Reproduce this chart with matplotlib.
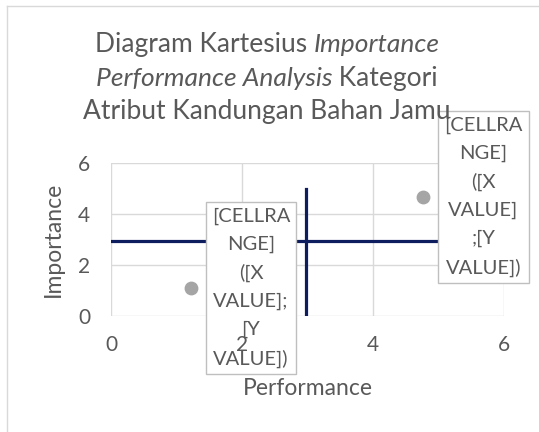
import matplotlib
matplotlib.use("Agg")
import matplotlib.pyplot as plt
from matplotlib.lines import Line2D

plt.rcParams['font.family'] = ['Lato', 'DejaVu Sans']

# data
performance = [1.22, 4.77]
importance = [1.11, 4.68]
mean_perf = 2.98
mean_imp = 2.95
line_end = 5
point_labels = ["[CELLRA\nNGE]\n([X\nVALUE];\n[Y\nVALUE])",
                "[CELLRA\nNGE]\n([X\nVALUE]\n;[Y\nVALUE])"]
ticks = [0, 2, 4, 6]

grey_txt = '#595959'
grid_c = '#d9d9d9'
navy = '#0d1d5e'

fig = plt.figure(figsize=(5.39, 4.32), dpi=100)
fig.patch.set_facecolor('white')
ax = fig.add_axes([0.206, 0.2685, 0.729, 0.354])

# grid drawn by hand so the label boxes can sit above it
for t in ticks:
    ax.axhline(t, color=grid_c, lw=1, zorder=1)
    ax.axvline(t, color=grid_c, lw=1, zorder=1)
ax.grid(False)
ax.set_axisbelow(False)

ax.plot([0, line_end], [mean_imp, mean_imp], color=navy, lw=2.3, zorder=2)
ax.plot([mean_perf, mean_perf], [0, line_end], color=navy, lw=2.3, zorder=2)
ax.scatter(performance, importance, s=80, color='#a5a5a5', zorder=2.1)

for x, y, lab in zip(performance, importance, point_labels):
    ax.annotate(lab, (x, y), xytext=(15, 0), textcoords='offset points',
                ha='left', va='center', multialignment='center',
                fontsize=14.5, color=grey_txt, linespacing=1.75,
                bbox=dict(boxstyle='square,pad=0.3', fc='white', ec='#bfbfbf', lw=1),
                zorder=2.4, annotation_clip=False)

ax.set_xlim(0, 6)
ax.set_ylim(0, 6)
ax.set_xticks(ticks)
ax.set_yticks(ticks)
ax.tick_params(length=0, labelsize=15, labelcolor=grey_txt)
ax.tick_params(axis='x', pad=14)
ax.tick_params(axis='y', pad=15)
for s in ax.spines.values():
    s.set_visible(False)
ax.set_xlabel('Performance', fontsize=16.5, color=grey_txt, labelpad=16)
ax.set_ylabel('Importance', fontsize=16.5, color=grey_txt, labelpad=10)

# outer chart border (left and top only visible)
fig.add_artist(Line2D([7/539, 7/539], [0, 1 - 6/432], color='#d9d9d9', lw=1))
fig.add_artist(Line2D([7/539, 1], [1 - 6/432, 1 - 6/432], color='#d9d9d9', lw=1))

# title with mixed italic pieces, centred line by line
title_lines = [
    [("Diagram Kartesius ", 'normal'), ("Importance", 'italic')],
    [("Performance Analysis", 'italic'), (" Kategori", 'normal')],
    [("Atribut Kandungan Bahan Jamu", 'normal')],
]
baselines = [52, 86, 119]
cx = 267
fig.canvas.draw()
r = fig.canvas.get_renderer()
for parts, base in zip(title_lines, baselines):
    objs = []
    for txt, st in parts:
        t = fig.text(0, 1 - base / 432, txt, fontsize=19, style=st, color=grey_txt,
                     va='baseline', ha='left', zorder=1)
        objs.append(t)
    widths = [o.get_window_extent(r).width for o in objs]
    x0 = cx - sum(widths) / 2
    for o, w in zip(objs, widths):
        o.set_x(x0 / 539)
        x0 += w

fig.savefig('out.png', dpi=100)
